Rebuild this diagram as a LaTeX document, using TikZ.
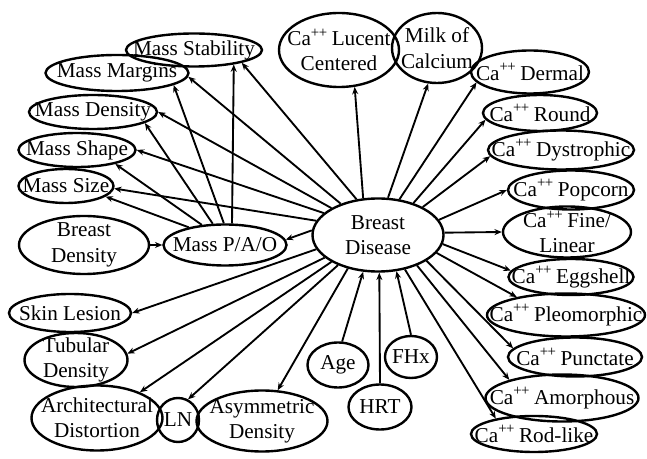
\documentclass[tikz,border=0pt]{standalone}
\usepackage{fontspec}
\setmainfont{Liberation Serif}
\usetikzlibrary{shapes.geometric,arrows.meta}
\newcommand{\caion}{Ca\textsuperscript{+\kern-0.4pt+}\kern-1pt}
\begin{document}
\begin{tikzpicture}[x=0.75pt,y=-0.75pt,
	var/.style={draw,ellipse,line width=1.8pt,inner sep=-40pt,align=center,font=\fontsize{15.9}{19}\selectfont},
	sz/.style 2 args={minimum width=#1*0.75pt,minimum height=#2*0.75pt},
	link/.style={line width=1.4pt,-{Stealth[length=5.5pt,width=4.5pt]}}]
	\useasboundingbox (0,0) rectangle (647,459);

	\node[var,sz={136}{33}] (stab) at (194,50) {Mass Stability};
	\node[var,sz={143}{36}] (marg) at (117,73) {Mass Margins};
	\node[var,sz={128}{34}] (mdens) at (93,112) {Mass Density};
	\node[var,sz={117}{34}] (mshape) at (77,150) {Mass Shape};
	\node[var,sz={95}{34}] (msize) at (66,186) {Mass Size};

	\node[var,sz={130}{58}] (bdens) at (84,245) {Breast\\Density};
	\node[var,sz={123}{41}] (pao) at (225,245) {Mass P/A/O};

	\node[var,sz={122}{38}] (skin) at (70,313) {Skin Lesion};
	\node[var,sz={103}{54}] (tub) at (76,360) {Tubular\\Density};
	\node[var,sz={131}{65}] (arch) at (97,418) {Architectural\\Distortion};
	\node[var,sz={42}{44}] (ln) at (178,420) {LN};
	\node[var,sz={131}{61}] (asym) at (262,421) {Asymmetric\\Density};

	\node[var,sz={61}{45}] (age) at (338,365) {Age};
	\node[var,sz={63}{45}] (hrt) at (380,407) {HRT};
	\node[var,sz={52}{42}] (fhx) at (411,357) {FHx};

	\node[var,sz={120}{74}] (lucent) at (339,50) {\caion{} Lucent\\Centered};
	\node[var,sz={90}{70}] (milk) at (437,48) {Milk of\\Calcium};
	\node[var,sz={118}{43}] (derm) at (530,72) {\caion{} Dermal};
	\node[var,sz={114}{36}] (round) at (540,113) {\caion{} Round};
	\node[var,sz={146}{39}] (dys) at (561,150) {\caion{} Dystrophic};
	\node[var,sz={126}{39}] (pop) at (571,190) {\caion{} Popcorn};
	\node[var,sz={128}{51}] (fine) at (567,232) {\caion{} Fine/\\Linear};
	\node[var,sz={125}{36}] (egg) at (571,277) {\caion{} Eggshell};
	\node[var,sz={158}{43}] (pleo) at (566,315) {\caion{} Pleomorphic};
	\node[var,sz={134}{39}] (punc) at (575,357) {\caion{} Punctate};
	\node[var,sz={153}{47}] (amor) at (562,398) {\caion{} Amorphous};
	\node[var,sz={126}{36}] (rod) at (534,434) {\caion{} Rod-like};

	\node[var,sz={131}{73}] (bd) at (378,235) {Breast\\Disease};

	\draw[link] (pao.154) -- (msize.-15);
	\draw[link] (pao.139) -- (mshape.-20);
	\draw[link] (pao.120) -- (mdens.-12);
	\draw[link] (pao.93) -- (marg.-12);
	\draw[link] (pao.72) -- (stab.-20);
	\draw[link] (bdens) -- (pao);

	\draw[link] (bd.167) -- (msize.-3);
	\draw[link] (bd.158) -- (mshape.0);
	\draw[link] (bd.150) -- (mdens.0);
	\draw[link] (bd.140) -- (marg.-3);
	\draw[link] (bd.121) -- (stab.-15);
	\draw[link] (bd.176) -- (pao.5);

	\draw[link] (bd.112) -- (lucent.-67);
	\draw[link] (bd.75) -- (milk.-104);
	\draw[link] (bd.59) -- (derm.-169);
	\draw[link] (bd.42) -- (round.-173);
	\draw[link] (bd.32) -- (dys.-175);
	\draw[link] (bd.14) -- (pop.180);
	\draw[link] (bd.2) -- (fine.180);
	\draw[link] (bd.-8) -- (egg.174);
	\draw[link] (bd.-17) -- (pleo.160);
	\draw[link] (bd.-28) -- (punc.172);
	\draw[link] (bd.-38) -- (amor.161);
	\draw[link] (bd.-52) -- (rod.158);

	\draw[link] (bd.-167) -- (skin.0);
	\draw[link] (bd.-157) -- (tub.7);
	\draw[link] (bd.-150) -- (arch.31);
	\draw[link] (bd.-143) -- (ln.64);
	\draw[link] (bd.-132) -- (asym.63);

	\draw[link] (age.80) -- (bd.-112);
	\draw[link] (hrt.north) -- (bd.-88);
	\draw[link] (fhx.north) -- (bd.-63);
\end{tikzpicture}
\end{document}
